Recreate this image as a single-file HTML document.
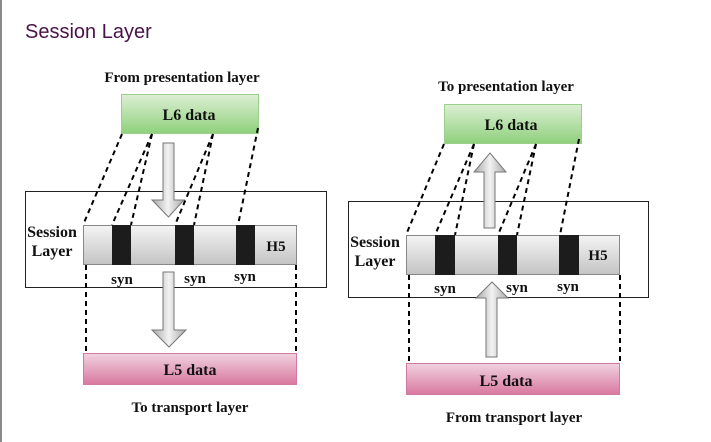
<!DOCTYPE html>
<html><head><style>
html,body{margin:0;padding:0;background:#fff;width:711px;height:442px;overflow:hidden}
</style></head><body>
<svg width="711" height="442" xmlns="http://www.w3.org/2000/svg" style="display:block">
<defs>
<linearGradient id="g6" x1="0" y1="0" x2="0" y2="1"><stop offset="0" stop-color="#dcefd4"/><stop offset="1" stop-color="#8fd07c"/></linearGradient>
<linearGradient id="g5" x1="0" y1="0" x2="0" y2="1"><stop offset="0" stop-color="#f0d2e0"/><stop offset="1" stop-color="#d9789f"/></linearGradient>
<linearGradient id="gb" x1="0" y1="0" x2="0" y2="1"><stop offset="0" stop-color="#f4f4f4"/><stop offset="1" stop-color="#c4c4c4"/></linearGradient>
<linearGradient id="ga" x1="0" y1="0" x2="1" y2="0"><stop offset="0" stop-color="#a8a8a8"/><stop offset="0.5" stop-color="#f2f2f2"/><stop offset="1" stop-color="#a8a8a8"/></linearGradient>
</defs>
<rect x="0" y="0" width="2" height="442" fill="#8a8a8a"/>
<text x="25" y="38" font-family="Liberation Sans, sans-serif" font-size="20" fill="#4a1248">Session Layer</text>
<g font-family="Liberation Serif, serif" font-weight="bold" font-size="15" fill="#111">
<!-- LEFT -->
<text x="182" y="82" text-anchor="middle">From presentation layer</text>
<rect x="121.5" y="94.5" width="137" height="39" fill="url(#g6)" stroke="#9ccf8a"/>
<text x="189" y="120" text-anchor="middle" font-size="16">L6 data</text>
<rect x="25.5" y="191.5" width="301" height="96" fill="#fff" stroke="#222"/>
<g stroke="#000" stroke-width="2" stroke-dasharray="5,4" fill="none">
<line x1="122" y1="134" x2="83" y2="225"/><line x1="152" y1="134" x2="112" y2="225"/><line x1="152" y1="134" x2="131" y2="225"/>
<line x1="213" y1="134" x2="175" y2="225"/><line x1="213" y1="134" x2="194" y2="225"/><line x1="258" y1="128" x2="238" y2="225"/>
<line x1="86" y1="265" x2="86" y2="352"/><line x1="296" y1="265" x2="296" y2="352"/>
</g>
<polygon points="163,143 174,143 174,200 184,200 168.5,217 152,200 163,200" fill="url(#ga)" stroke="#777"/>
<rect x="83.5" y="225.5" width="213" height="39" fill="url(#gb)" stroke="#888"/>
<rect x="112" y="225" width="19" height="40" fill="#1c1c1c"/><rect x="175" y="225" width="19" height="40" fill="#1c1c1c"/><rect x="236" y="225" width="19" height="40" fill="#1c1c1c"/>
<text x="276" y="251" text-anchor="middle">H5</text>
<text x="52" y="237" text-anchor="middle" font-size="16">Session</text><text x="52" y="256" text-anchor="middle" font-size="16">Layer</text>
<text x="122" y="284" text-anchor="middle">syn</text><text x="195" y="283" text-anchor="middle">syn</text><text x="245" y="281" text-anchor="middle">syn</text>
<polygon points="163,272 174,272 174,330 186,330 169,347 152,330 163,330" fill="url(#ga)" stroke="#777"/>
<rect x="83.5" y="353.5" width="213" height="31" fill="url(#g5)" stroke="#d07aa0"/>
<text x="190" y="375" text-anchor="middle" font-size="16">L5 data</text>
<text x="190" y="412" text-anchor="middle">To transport layer</text>
<!-- RIGHT -->
<text x="506" y="91" text-anchor="middle">To presentation layer</text>
<rect x="444.5" y="104.5" width="137" height="39" fill="url(#g6)" stroke="#9ccf8a"/>
<text x="511" y="130" text-anchor="middle" font-size="16">L6 data</text>
<rect x="348.5" y="201.5" width="300" height="96" fill="#fff" stroke="#222"/>
<g stroke="#000" stroke-width="2" stroke-dasharray="5,4" fill="none">
<line x1="444" y1="144" x2="406" y2="235"/><line x1="474" y1="144" x2="435" y2="235"/><line x1="474" y1="144" x2="455" y2="235"/>
<line x1="536" y1="144" x2="498" y2="235"/><line x1="536" y1="144" x2="517" y2="235"/><line x1="579" y1="139" x2="560" y2="235"/>
<line x1="409" y1="275" x2="409" y2="362"/><line x1="620" y1="275" x2="620" y2="362"/>
</g>
<polygon points="484,228 495,228 495,172 506,172 490,153 474,172 484,172" fill="url(#ga)" stroke="#777"/>
<rect x="406.5" y="235.5" width="213" height="39" fill="url(#gb)" stroke="#888"/>
<rect x="435" y="235" width="20" height="40" fill="#1c1c1c"/><rect x="498" y="235" width="19" height="40" fill="#1c1c1c"/><rect x="559" y="235" width="20" height="40" fill="#1c1c1c"/>
<text x="598" y="260" text-anchor="middle">H5</text>
<text x="375" y="247" text-anchor="middle" font-size="16">Session</text><text x="375" y="266" text-anchor="middle" font-size="16">Layer</text>
<text x="445" y="293" text-anchor="middle">syn</text><text x="517" y="292" text-anchor="middle">syn</text><text x="568" y="291" text-anchor="middle">syn</text>
<polygon points="486,357 497,357 497,298 508,298 492,282 476,298 486,298" fill="url(#ga)" stroke="#777"/>
<rect x="406.5" y="363.5" width="213" height="31" fill="url(#g5)" stroke="#d07aa0"/>
<text x="506" y="386" text-anchor="middle" font-size="16">L5 data</text>
<text x="514" y="422" text-anchor="middle">From transport layer</text>
</g>
</svg>
</body></html>
